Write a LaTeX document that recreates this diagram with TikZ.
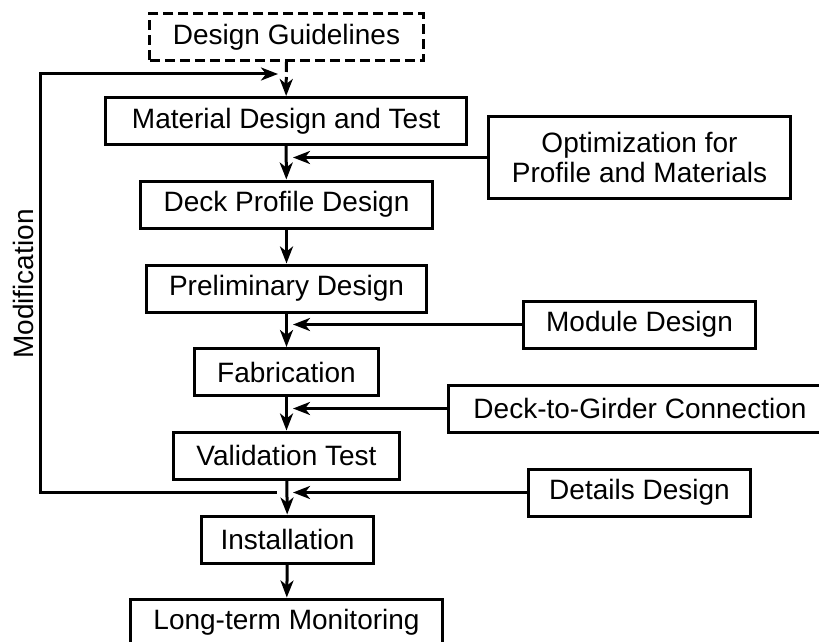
\documentclass[tikz,border=0pt]{standalone}
\usepackage{fontspec}
\setmainfont{Liberation Sans}
\usetikzlibrary{arrows.meta}
\tikzset{
    box/.style={draw, line width=1.5pt, inner xsep=11.5pt, inner ysep=0pt,
        minimum height=23.5pt, align=center, font=\fontsize{14}{14.7}\selectfont},
    flow/.style={line width=1.5pt, -{Stealth[length=8.5pt, width=6.5pt, inset=2.5pt]}},
}
\begin{document}
\begin{tikzpicture}[x=0.5pt, y=-0.5pt]
    \clip (0,0) rectangle (819,642);
    % Main column
    \node[box, dash pattern=on 5pt off 2.5pt] (guide) at (286.5,37) {Design Guidelines};
    \node[box, inner xsep=13pt] (mat) at (286,121) {Material Design and Test};
    \node[box] (deck) at (286.5,204.5) {Deck Profile Design};
    \node[box] (prelim) at (286.5,288.5) {Preliminary Design};
    \node[box] (fab) at (286.5,372) {Fabrication};
    \node[box] (valid) at (286.5,455.5) {Validation Test};
    \node[box, inner xsep=9.5pt] (inst) at (287.5,539.5) {Installation};
    \node[box] (mon) at (286.5,622.5) {Long-term Monitoring};
    % Side inputs
    \node[box, minimum height=40.5pt] (opt) at (639.5,157.5) {Optimization for\\Profile and Materials};
    \node[box] (module) at (639.5,324.5) {Module Design};
    \node[box, inner xsep=12.5pt] (conn) at (640,408.5) {Deck-to-Girder Connection};
    \node[box, inner xsep=10.5pt] (details) at (639.5,492.5) {Details Design};
    \node[rotate=90, font=\fontsize{14}{14.7}\selectfont] (modlbl) at (23,284) {Modification};
    % Junctions on the main line
    \coordinate (jtop) at (286.5,74);
    \coordinate (jopt) at (286.5,157.5);
    \coordinate (jmod) at (286.5,324.5);
    \coordinate (jconn) at (286.5,408.5);
    \coordinate (jdet) at (286.5,492.5);
    \coordinate (fbl) at (40,492.5);
    % Flow
    \draw[flow, dash pattern=on 5pt off 2.5pt] (guide) -- (mat);
    \draw[flow] (mat) -- (deck);
    \draw[flow] (deck) -- (prelim);
    \draw[flow] (prelim) -- (fab);
    \draw[flow] (fab) -- (valid);
    \draw[flow] (valid) -- (inst);
    \draw[flow] (inst) -- (mon);
    \draw[flow, shorten >=3.25pt] (opt.west) -- (jopt);
    \draw[flow, shorten >=3.25pt] (module) -- (jmod);
    \draw[flow, shorten >=3.25pt] (conn) -- (jconn);
    \draw[flow, shorten >=3.25pt] (details) -- (jdet);
    % Modification loop
    \draw[flow, shorten <=5pt, shorten >=4.25pt] (jdet) -- (fbl) |- (jtop);
\end{tikzpicture}
\end{document}
